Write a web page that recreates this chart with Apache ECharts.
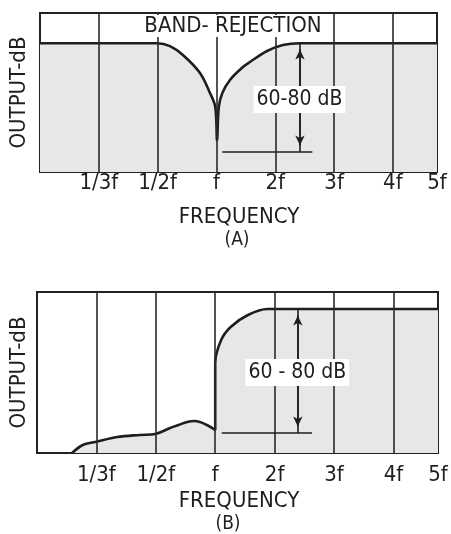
<!DOCTYPE html>
<html>
<head>
<meta charset="utf-8">
<script src="https://cdn.jsdelivr.net/npm/echarts@6/dist/echarts.min.js"></script>
<style>
  html, body { margin: 0; padding: 0; background: #fff; }
  #chart { width: 451px; height: 534px; }
</style>
</head>
<body>
<div id="chart"></div>
<script>
// frequency axis: position of each tick and its label
var tickPos = [1, 2, 3, 4, 5, 6, 6.75];
var tickLabels = ["1/3f", "1/2f", "f", "2f", "3f", "4f", "5f"];

// (A) band-rejection response  [freq position, output 0-100]
var curveA = [
  [0, 81], [1.99, 81], [2.21, 79.2], [2.43, 73.6], [2.72, 62.3], [2.89, 49.7],
  [2.98, 40.9], [3.01, 20], [3.04, 40.9], [3.1, 49.7], [3.23, 57.9], [3.45, 66],
  [3.57, 69.2], [3.86, 76.1], [4.13, 79.9], [4.42, 81], [6.75, 81]
];
// (B) response
var curveB = [
  [0.59, 0], [0.77, 5], [0.98, 6.8], [1.35, 9.9], [1.73, 11.2], [1.99, 11.8],
  [2.24, 15.5], [2.53, 19.3], [2.66, 19.9], [2.86, 17.4], [3.0, 14.3],
  [3.0, 56], [3.1, 70.2], [3.26, 78.3], [3.55, 85.7], [3.88, 89.4], [6.75, 89.4]
];

// "60-80 dB" dimension marks: arrow x, top, bottom, base line from/to, label y
var dimA = { text: "60-80 dB", x: 4.42, top: 81, bottom: 12.6, baseFrom: 3.1, baseTo: 4.63, labelY: 45.3 };
var dimB = { text: "60 - 80 dB", x: 4.39, top: 89.4, bottom: 12.4, baseFrom: 3.11, baseTo: 4.63, labelY: 49.7 };

var font = "'DejaVu Sans Condensed', 'Liberation Sans Narrow', 'DejaVu Sans', sans-serif";
var ink = "#1e1e1e";

function xAxisFor(idx, margin) {
  return {
    type: "value", gridIndex: idx, min: 0, max: 6.75,
    axisLine: { show: false }, axisTick: { show: false }, splitLine: { show: false },
    axisLabel: {
      customValues: tickPos,
      margin: margin,
      color: ink, fontFamily: font, fontSize: 22,
      formatter: function (v) {
        var i = tickPos.indexOf(v);
        return i >= 0 ? tickLabels[i] : "";
      }
    }
  };
}
function yAxisFor(idx, gap) {
  return {
    type: "value", gridIndex: idx, min: 0, max: 100,
    name: "OUTPUT-dB", nameLocation: "middle", nameRotate: 90, nameGap: gap,
    nameTextStyle: { color: ink, fontFamily: font, fontSize: 22 },
    axisLine: { show: false }, axisTick: { show: false },
    axisLabel: { show: false }, splitLine: { show: false }
  };
}
function gridLines() {
  return tickPos.slice(0, 6).map(function (p) { return { xAxis: p }; });
}
function curveSeries(idx, data) {
  return {
    type: "line", xAxisIndex: idx, yAxisIndex: idx, data: data,
    smooth: 0.35, symbol: "none",
    lineStyle: { color: ink, width: 2.6 },
    areaStyle: { color: "#e7e7e5", opacity: 1 },
    z: 3,
    markLine: {
      silent: true, symbol: "none", animation: false,
      label: { show: false },
      lineStyle: { color: "#2a2a2a", width: 1.6, type: "solid" },
      data: gridLines()
    }
  };
}
function dimSeries(idx, d) {
  return {
    type: "scatter", xAxisIndex: idx, yAxisIndex: idx,
    data: [[d.x, d.labelY]], symbolSize: 1, z: 6,
    itemStyle: { color: "rgba(0,0,0,0)", opacity: 1 },
    label: {
      show: true, position: [0, 0], align: "center", verticalAlign: "middle",
      formatter: d.text,
      color: ink, fontFamily: font, fontSize: 21,
      backgroundColor: "#fff", padding: [3, 3]
    },
    markLine: {
      silent: true, animation: false, label: { show: false },
      lineStyle: { color: ink, width: 1.6, type: "solid" },
      data: [
        [{ coord: [d.x, d.top], symbol: "none" }, { coord: [d.x, d.bottom], symbol: "none" }],
        [{ coord: [d.x, d.top - 4], symbol: "arrow", symbolSize: [7, 10] },
         { coord: [d.x, d.bottom + 4], symbol: "arrow", symbolSize: [7, 10] }],
        [{ coord: [d.baseFrom, d.bottom], symbol: "none" }, { coord: [d.baseTo, d.bottom], symbol: "none" }]
      ]
    }
  };
}
function caption(text, x, y, size, bg) {
  return {
    text: text, left: x, top: y, textAlign: "center", padding: [0, 4],
    backgroundColor: bg || "transparent",
    textStyle: { color: ink, fontFamily: font, fontSize: size, fontWeight: "normal" }
  };
}

var myChart = echarts.init(document.getElementById("chart"));
var option = {
  animation: false,
  backgroundColor: "#fff",
  title: [
    caption("BAND- REJECTION", 229, 15, 22, "#fff"),
    caption("FREQUENCY", 235, 206, 22),
    caption("(A)", 233, 231, 19),
    caption("FREQUENCY", 235, 490, 22),
    caption("(B)", 224, 515, 19)
  ],
  grid: [
    { left: 40, top: 13, width: 397, height: 159, show: true,
      backgroundColor: "#fff", borderColor: "#222", borderWidth: 2 },
    { left: 37, top: 292, width: 401, height: 161, show: true,
      backgroundColor: "#fff", borderColor: "#222", borderWidth: 2 }
  ],
  xAxis: [xAxisFor(0, 0), xAxisFor(1, 11)],
  yAxis: [yAxisFor(0, 10), yAxisFor(1, 7)],
  series: [
    curveSeries(0, curveA),
    curveSeries(1, curveB),
    dimSeries(0, dimA),
    dimSeries(1, dimB)
  ]
};
myChart.setOption(option);
</script>
</body>
</html>
